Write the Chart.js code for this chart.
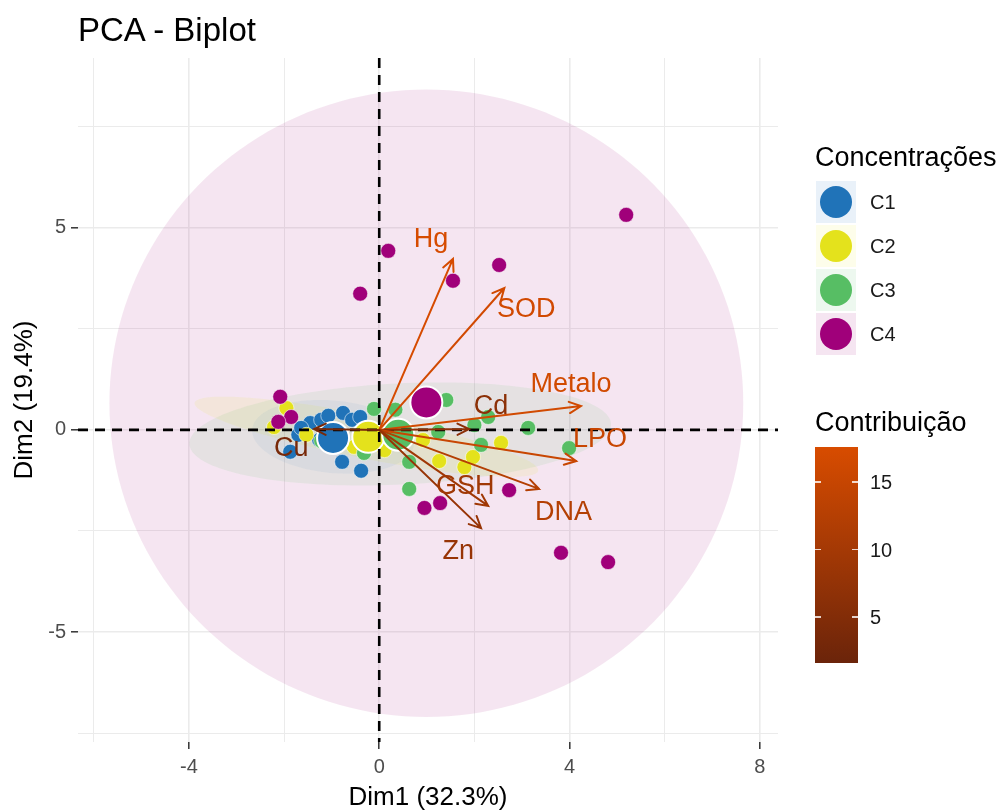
<!DOCTYPE html>
<html>
<head>
<meta charset="utf-8">
<script src="https://cdn.jsdelivr.net/npm/chart.js@4.4.1/dist/chart.umd.min.js"></script>
<style>
  body { margin: 0; background: #fff; font-family: "Liberation Sans", Arial, sans-serif; }
  #wrap { position: relative; width: 1002px; height: 811px; }
  #title { position: absolute; left: 78px; top: 13px; font-size: 33px; line-height: 34px; color: #000; }
  .lg-title { position: absolute; left: 815px; font-size: 27px; line-height: 28px; color: #000; }
  .lg-row { position: absolute; left: 816px; width: 180px; height: 44px; }
  .lg-box { position: absolute; left: 0; top: 1px; width: 40px; height: 42px; }
  .lg-dot { position: absolute; left: 4px; top: 6px; width: 32px; height: 32px; border-radius: 50%; }
  .lg-lab { position: absolute; left: 54px; top: 0; line-height: 44px; font-size: 20px; color: #1a1a1a; }
  #bar { position: absolute; left: 815px; top: 447px; width: 43px; height: 216px; }
  .bar-tick { position: absolute; height: 1.5px; width: 6px; background: rgba(255,255,255,0.8); }
  .bar-lab { position: absolute; left: 870px; font-size: 20px; line-height: 20px; color: #1a1a1a; }
</style>
</head>
<body>
<div id="wrap">
  <canvas id="chart"></canvas>
  <div id="title">PCA - Biplot</div>
  <div class="lg-title" style="top:143px">Concentrações</div>
  <div id="lg-groups"></div>
  <div class="lg-title" style="top:408px">Contribuição</div>
  <div id="bar"></div>
  <div id="bar-ticks"></div>
</div>
<script>
// ── data ────────────────────────────────────────────────────────────────
const GROUPS = ['C1', 'C2', 'C3', 'C4'];
const GROUP_COLORS = ['#2073b8', '#e4e21c', '#57be64', '#a0007a'];
const GROUP_BOX = ['#e9f1f9', '#fdfdea', '#edf8ef', '#f5e5f1'];
const ELL_ALPHA = [0.06, 0.1, 0.1, 0.1];

// individuals (Dim1, Dim2)
const C1_X = [-1.87, -1.70, -1.45, -1.22, -1.07, -0.76, -0.57, -0.40, -0.78, -0.38, -1.26, -1.64];
const C1_Y = [-0.54, -0.12, 0.17, 0.25, 0.35, 0.42, 0.25, 0.32, -0.79, -1.01, -0.25, 0.05];
const C2_X = [-1.95, -2.21, -1.53, -0.53, 0.11, 0.92, 1.26, 1.79, 1.97, 2.56];
const C2_Y = [0.54, 0.07, -0.12, -0.42, -0.50, -0.25, -0.77, -0.92, -0.67, -0.32];
const C3_X = [-0.11, 0.34, 1.41, 1.24, 2.00, 2.29, 3.13, 3.99, 2.14, 0.63, 0.63, -0.32, -1.22];
const C3_Y = [0.52, 0.50, 0.74, -0.05, 0.12, 0.32, 0.05, -0.45, -0.37, -0.79, -1.46, -0.57, -0.27];
const C4_X = [5.19, 2.52, 0.19, 1.55, -0.40, 3.82, 4.81, 0.95, 1.28, 2.73, -2.08, -1.85, -2.12];
const C4_Y = [5.32, 4.08, 4.43, 3.69, 3.37, -3.04, -3.27, -1.93, -1.81, -1.49, 0.82, 0.32, 0.20];

// group means
const MEAN_X = [-0.97, -0.23, 0.40, 0.99];
const MEAN_Y = [-0.20, -0.17, -0.12, 0.68];

// group ellipses: centre and two semi-axis vectors (data units)
const ELL_CX = [-0.97, -0.27, 0.44, 0.99];
const ELL_CY = [-0.17, -0.17, -0.10, 0.66];
const ELL_UX = [1.70, 3.61, 4.43, 6.66];
const ELL_UY = [-0.15, -0.84, 0.25, 0.00];
const ELL_VX = [0.00, -0.09, -0.05, 0.00];
const ELL_VY = [0.90, -0.53, 1.25, 7.76];

// variables
const VAR_NAMES   = ['Hg', 'SOD', 'Metalo', 'Cd', 'LPO', 'DNA', 'GSH', 'Zn', 'Cu'];
const VAR_X       = [1.55, 2.63, 4.24, 1.89, 4.14, 3.36, 2.29, 2.14, -1.37];
const VAR_Y       = [4.23, 3.51, 0.59, 0.02, -0.77, -1.46, -1.88, -2.43, 0.02];
const VAR_CONTRIB = [17.3, 16.5, 16.6, 6.4, 15.2, 12.3, 9.4, 8.0, 3.5];
const VAR_LAB_X   = [1.09, 3.09, 4.03, 2.35, 4.64, 3.87, 1.81, 1.66, -1.85];
const VAR_LAB_Y   = [4.70, 2.97, 1.11, 0.57, -0.25, -2.05, -1.41, -3.02, -0.45];

const CONTRIB_MIN = 1.6, CONTRIB_MAX = 17.6;
const CONTRIB_TICKS = [15, 10, 5];
const LOW_RGB = [107, 36, 10], HIGH_RGB = [216, 76, 0];

const X_MIN = -6.33, X_MAX = 8.38, Y_MIN = -7.72, Y_MAX = 9.2;

// ── helpers ─────────────────────────────────────────────────────────────
const FONT = '"Liberation Sans", Arial, sans-serif';

function contribColor(v) {
  const t = Math.max(0, Math.min(1, (v - CONTRIB_MIN) / (CONTRIB_MAX - CONTRIB_MIN)));
  const c = LOW_RGB.map((lo, i) => Math.round(lo + (HIGH_RGB[i] - lo) * t));
  return `rgb(${c[0]},${c[1]},${c[2]})`;
}

function hexA(hex, a) {
  const n = parseInt(hex.slice(1), 16);
  return `rgba(${n >> 16},${(n >> 8) & 255},${n & 255},${a})`;
}

const zip = (xs, ys) => xs.map((x, i) => ({ x, y: ys[i] }));

// ── plugins ─────────────────────────────────────────────────────────────
const ellipsePlugin = {
  id: 'ellipses',
  beforeDatasetsDraw(chart) {
    const { ctx, chartArea: a, scales: { x, y } } = chart;
    ctx.save();
    ctx.beginPath();
    ctx.rect(a.left, a.top, a.right - a.left, a.bottom - a.top);
    ctx.clip();
    [3, 2, 1, 0].forEach(i => {
      ctx.beginPath();
      for (let k = 0; k <= 180; k++) {
        const t = k / 180 * Math.PI * 2;
        const dx = ELL_CX[i] + Math.cos(t) * ELL_UX[i] + Math.sin(t) * ELL_VX[i];
        const dy = ELL_CY[i] + Math.cos(t) * ELL_UY[i] + Math.sin(t) * ELL_VY[i];
        const px = x.getPixelForValue(dx), py = y.getPixelForValue(dy);
        k ? ctx.lineTo(px, py) : ctx.moveTo(px, py);
      }
      ctx.closePath();
      ctx.fillStyle = hexA(GROUP_COLORS[i], ELL_ALPHA[i]);
      ctx.fill();
    });
    ctx.restore();
  }
};

const overlayPlugin = {
  id: 'overlay',
  afterDatasetsDraw(chart) {
    const { ctx, chartArea: a, scales: { x, y } } = chart;
    const ox = x.getPixelForValue(0), oy = y.getPixelForValue(0);
    ctx.save();

    // dashed reference lines
    ctx.strokeStyle = '#000';
    ctx.lineWidth = 2.6;
    ctx.setLineDash([10, 7]);
    ctx.beginPath();
    ctx.moveTo(ox, a.top); ctx.lineTo(ox, a.bottom);
    ctx.moveTo(a.left, oy); ctx.lineTo(a.right, oy);
    ctx.stroke();
    ctx.setLineDash([]);

    // variable arrows
    ctx.lineWidth = 2;
    ctx.lineCap = 'round';
    VAR_NAMES.forEach((name, i) => {
      const col = contribColor(VAR_CONTRIB[i]);
      const tx = x.getPixelForValue(VAR_X[i]), ty = y.getPixelForValue(VAR_Y[i]);
      const ang = Math.atan2(ty - oy, tx - ox);
      const head = 13, spread = 0.45;
      ctx.strokeStyle = col;
      ctx.beginPath();
      ctx.moveTo(ox, oy); ctx.lineTo(tx, ty);
      ctx.moveTo(tx - head * Math.cos(ang - spread), ty - head * Math.sin(ang - spread));
      ctx.lineTo(tx, ty);
      ctx.lineTo(tx - head * Math.cos(ang + spread), ty - head * Math.sin(ang + spread));
      ctx.stroke();
    });

    // variable labels
    ctx.font = `27px ${FONT}`;
    ctx.textAlign = 'center';
    ctx.textBaseline = 'middle';
    VAR_NAMES.forEach((name, i) => {
      ctx.fillStyle = contribColor(VAR_CONTRIB[i]);
      ctx.fillText(name, x.getPixelForValue(VAR_LAB_X[i]), y.getPixelForValue(VAR_LAB_Y[i]));
    });
    ctx.restore();
  }
};

// ── chart ───────────────────────────────────────────────────────────────
const groupXs = [C1_X, C2_X, C3_X, C4_X];
const groupYs = [C1_Y, C2_Y, C3_Y, C4_Y];

const datasets = [];
GROUPS.forEach((g, i) => {
  datasets.push({
    label: g,
    data: zip(groupXs[i], groupYs[i]),
    backgroundColor: GROUP_COLORS[i],
    borderColor: 'rgba(255,255,255,0.55)',
    borderWidth: 1,
    pointRadius: 7.5,
    order: 10 - i,
  });
});
GROUPS.forEach((g, i) => {
  datasets.push({
    label: g + ' mean',
    data: [{ x: MEAN_X[i], y: MEAN_Y[i] }],
    backgroundColor: GROUP_COLORS[i],
    borderColor: '#fff',
    borderWidth: 2,
    pointRadius: 16,
    order: 4 - i,
  });
});

const tickFont = { family: FONT, size: 20 };

new Chart(document.getElementById('chart'), {
  type: 'scatter',
  data: { datasets },
  plugins: [ellipsePlugin, overlayPlugin],
  options: {
    responsive: true,
    maintainAspectRatio: false,
    animation: false,
    layout: { padding: { top: 58, right: 224, left: 0, bottom: 0 } },
    plugins: { legend: { display: false }, tooltip: { enabled: false } },
    scales: {
      x: {
        min: X_MIN, max: X_MAX,
        afterFit: s => { s.height = 69; },
        border: { display: false },
        grid: {
          color: '#ebebeb',
          lineWidth: c => (c.tick && c.tick.value % 4 === 0) ? 1.6 : 1,
          tickColor: c => (c.tick && c.tick.value % 4 === 0) ? '#333' : 'rgba(0,0,0,0)',
          tickLength: 7,
          tickWidth: 1.5,
        },
        ticks: {
          stepSize: 2, includeBounds: false, autoSkip: false, maxRotation: 0,
          padding: 6, color: '#4d4d4d', font: tickFont,
          callback: v => v % 4 === 0 ? v : '',
        },
        title: {
          display: true, text: 'Dim1 (32.3%)', color: '#000',
          font: { family: FONT, size: 26, lineHeight: 1 },
          padding: { top: 0, bottom: 0 },
        },
      },
      y: {
        min: Y_MIN, max: Y_MAX,
        afterFit: s => { s.width = 78; },
        border: { display: false },
        grid: {
          color: '#ebebeb',
          lineWidth: c => (c.tick && c.tick.value % 5 === 0) ? 1.6 : 1,
          tickColor: c => (c.tick && c.tick.value % 5 === 0) ? '#333' : 'rgba(0,0,0,0)',
          tickLength: 7,
          tickWidth: 1.5,
        },
        ticks: {
          stepSize: 2.5, includeBounds: false, autoSkip: false,
          padding: 5, color: '#4d4d4d', font: tickFont,
          callback: v => v % 5 === 0 ? v : '',
        },
        title: {
          display: true, text: 'Dim2 (19.4%)', color: '#000',
          font: { family: FONT, size: 26, lineHeight: 1 },
          padding: { top: 12, bottom: 0 },
        },
      },
    },
  },
});

// ── legends ─────────────────────────────────────────────────────────────
document.getElementById('lg-groups').innerHTML = GROUPS.map((g, i) => `
  <div class="lg-row" style="top:${180 + i * 44}px">
    <div class="lg-box" style="background:${GROUP_BOX[i]}"></div>
    <div class="lg-dot" style="background:${GROUP_COLORS[i]}"></div>
    <div class="lg-lab">${g}</div>
  </div>`).join('');

const bar = document.getElementById('bar');
const barTop = 447, barH = 216;
bar.style.background = `linear-gradient(to bottom, ${contribColor(CONTRIB_MAX)}, ${contribColor(CONTRIB_MIN)})`;
document.getElementById('bar-ticks').innerHTML = CONTRIB_TICKS.map(v => {
  const py = barTop + (CONTRIB_MAX - v) / (CONTRIB_MAX - CONTRIB_MIN) * barH;
  return `<div class="bar-tick" style="left:815px;top:${py - 0.75}px"></div>
    <div class="bar-tick" style="left:852px;top:${py - 0.75}px"></div>
    <div class="bar-lab" style="top:${py - 10}px">${v}</div>`;
}).join('');
</script>
</body>
</html>
